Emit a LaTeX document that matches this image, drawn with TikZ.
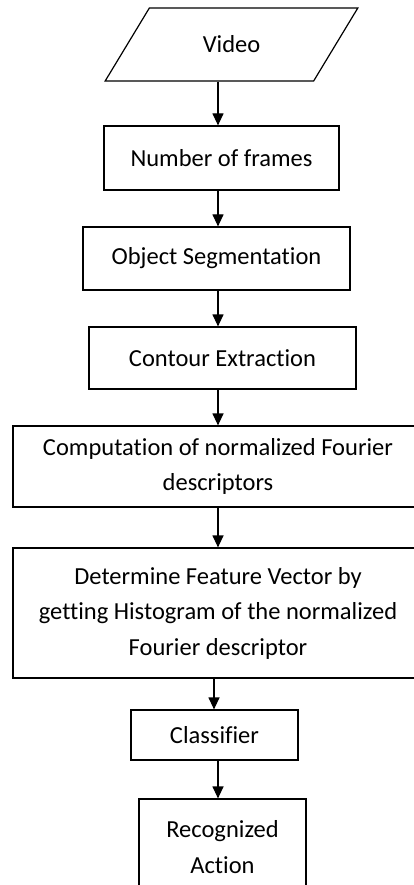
\documentclass[tikz,border=0pt]{standalone}
\usepackage{fontspec}
\setmainfont{Carlito}[Ligatures={NoCommon,NoContextual,NoRequired}]
\usetikzlibrary{arrows.meta,positioning,shapes.geometric}

\begin{document}
\begin{tikzpicture}[x=1pt,y=-1pt,
    box/.style={draw,line width=1.2pt,align=center,inner sep=0pt,font=\fontsize{24.5}{35.5}\selectfont},
    arr/.style={-{Triangle[width=11pt,length=12pt]},line width=1.2pt}]
        \useasboundingbox (0,0) rectangle (414,885);
        \coordinate (spine) at (218,0);
        \coordinate (spinecls) at (214,0);
        \node[box,trapezium,trapezium left angle=48,trapezium right angle=132,trapezium stretches=true,minimum width=253pt,minimum height=73pt] (vid) at (231.5,44.5) {Video};
        \node[box,minimum width=235pt,minimum height=64pt] (nof) at (221.5,158) {Number of frames};
        \node[box,minimum width=267pt,minimum height=63pt] (seg) at (216.5,258.5) {Object Segmentation};
        \node[box,minimum width=267pt,minimum height=62pt] (cont) at (222.5,358) {Contour Extraction};
        \node[box,minimum width=410pt,minimum height=81pt] (fd) at (218,466.5) {Computation of normalized Fourier\\ descriptors};
        \node[box,minimum width=410pt,minimum height=130pt] (feat) at (218,613) {Determine Feature Vector by\\ getting Histogram of the normalized\\ Fourier descriptor};
        \node[box,minimum width=167pt,minimum height=50pt] (cls) at (214.5,735) {Classifier};
        \node[box,minimum width=167pt,minimum height=96pt] (act) at (222.5,847) {Recognized\\ Action};
        \draw[arr] (vid.south -| spine) -- (nof.north -| spine);
        \draw[arr] (nof.south -| spine) -- (seg.north -| spine);
        \draw[arr] (seg.south -| spine) -- (cont.north -| spine);
        \draw[arr] (cont.south -| spine) -- (fd.north -| spine);
        \draw[arr] (fd.south -| spine) -- (feat.north -| spine);
        \draw[arr] (feat.south -| spinecls) -- (cls.north -| spinecls);
        \draw[arr] (cls.south -| spine) -- (act.north -| spine);
      \end{tikzpicture}
\end{document}
